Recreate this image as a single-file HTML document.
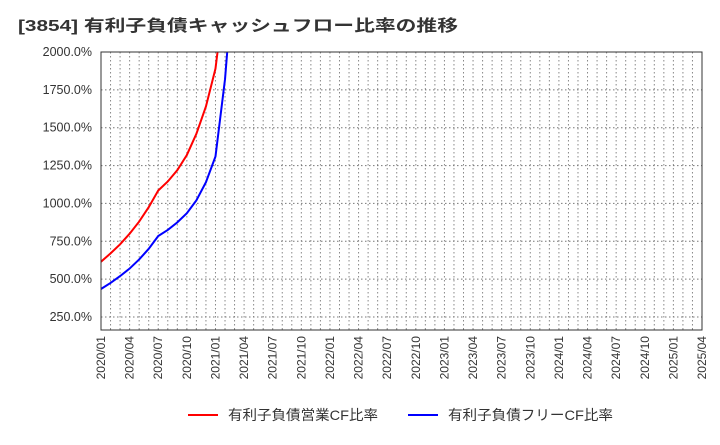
<!DOCTYPE html>
<html><head><meta charset="utf-8"><style>
body{margin:0;background:#fff;font-family:"Liberation Sans","Noto Sans CJK JP",sans-serif;}
</style></head><body>
<svg width="720" height="440" xmlns="http://www.w3.org/2000/svg">
<text x="18" y="31" font-size="16" font-weight="bold" fill="#333" textLength="440" lengthAdjust="spacingAndGlyphs" font-family="Liberation Sans, Noto Sans CJK JP, sans-serif">[3854]  有利子負債キャッシュフロー比率の推移</text>
<defs><clipPath id="pc"><rect x="101" y="52" width="601" height="278"/></clipPath></defs>
<g id="grid"></g>
<g id="yticks"></g>
<g id="xticks"></g>
<g id="series" clip-path="url(#pc)"></g>
<rect x="101" y="52" width="601" height="278" fill="none" stroke="#333"/>
<g>
<line x1="188" y1="415" x2="218" y2="415" stroke="#f00" stroke-width="2"/>
<text x="228" y="420" font-size="14" fill="#333" textLength="150" lengthAdjust="spacingAndGlyphs">有利子負債営業CF比率</text>
<line x1="408" y1="415" x2="438" y2="415" stroke="#00f" stroke-width="2"/>
<text x="448" y="420" font-size="14" fill="#333" textLength="165" lengthAdjust="spacingAndGlyphs">有利子負債フリーCF比率</text>
</g>
</svg>
<script>
const yTicks=[250,500,750,1000,1250,1500,1750,2000];
const xLabels=["2020/01","2020/04","2020/07","2020/10","2021/01","2021/04","2021/07","2021/10","2022/01","2022/04","2022/07","2022/10","2023/01","2023/04","2023/07","2023/10","2024/01","2024/04","2024/07","2024/10","2025/01","2025/04"];
const redValues=[615,670,730,800,880,975,1085,1145,1220,1320,1460,1640,1890,2400];
const blueValues=[435,475,520,570,630,700,785,825,875,935,1020,1140,1310,1820,2600];
const NS="http://www.w3.org/2000/svg";
const x0=101,x1=702,nMonths=63;
const xs=m=>x0+(x1-x0)*m/nMonths;
const ys=v=>52+(2000-v)/250*37.857;
function el(t,a,p){const e=document.createElementNS(NS,t);for(const k in a)e.setAttribute(k,a[k]);document.getElementById(p).appendChild(e);return e;}
for(let m=1;m<nMonths;m++){const g=el('line',{x1:xs(m),x2:xs(m),y1:52,y2:330,stroke:'#888','stroke-dasharray':'1.5,2.5'},'grid');

}
yTicks.forEach(v=>{const g=el('line',{x1:101,x2:702,y1:ys(v),y2:ys(v),stroke:'#777','stroke-dasharray':'1.5,2.5'},'grid');


const t=el('text',{x:92,y:ys(v)+4,'text-anchor':'end','font-size':12.5,fill:'#333'},'yticks');


t.textContent=v.toFixed(1)+'%';});
xLabels.forEach((l,i)=>{const x=xs(i*3);const t=el('text',{x:0,y:0,transform:`translate(${x+4},336) rotate(-90)`,'text-anchor':'end','font-size':12,fill:'#333'},'xticks');


t.textContent=l;});
function line(vals,c,n){const p=el('polyline',{points:vals.map((v,i)=>xs(i)+','+ys(v)).join(' '),fill:'none',stroke:c,'stroke-width':2},'series');

}
line(redValues,'#f00','red-line');
line(blueValues,'#00f','blue-line');
</script>
</body></html>
